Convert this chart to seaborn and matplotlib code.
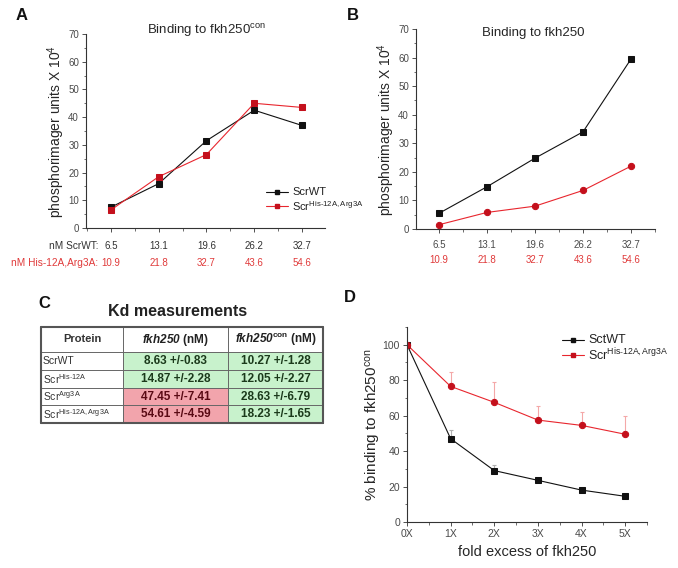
# %%
import numpy as np
import pandas as pd
import matplotlib
matplotlib.use("Agg")
import matplotlib.pyplot as plt
import seaborn as sns
from matplotlib.ticker import MultipleLocator
from matplotlib.patches import Rectangle

# %% data
conc_wt = ["6.5", "13.1", "19.6", "26.2", "32.7"]
conc_mut = ["10.9", "21.8", "32.7", "43.6", "54.6"]

a_wt = [7.5, 16.0, 31.5, 42.5, 37.0]
a_mut = [6.5, 18.5, 26.5, 45.0, 43.5]

b_wt = [5.5, 14.8, 24.8, 34.0, 59.5]
b_mut = [1.5, 5.8, 8.0, 13.5, 22.0]

fold = ["0X", "1X", "2X", "3X", "4X", "5X"]
d_wt = [100, 47, 29, 23.5, 18, 14.5]
d_wt_err = [0, 5, 3, 1.5, 1, 1]
d_mut = [100, 76.5, 67.5, 57.5, 54.5, 49.5]
d_mut_err = [0, 8, 11.5, 8, 7.5, 10.5]

proteins = ["ScrWT", r"Scr$^{His‑12A}$", r"Scr$^{Arg3A}$", r"Scr$^{His‑12A,Arg3A}$"]
kd_fkh250 = ["8.63 +/-0.83", "14.87 +/-2.28", "47.45 +/-7.41", "54.61 +/-4.59"]
kd_fkh250con = ["10.27 +/-1.28", "12.05 +/-2.27", "28.63 +/-6.79", "18.23 +/-1.65"]
kd_good_fkh250 = [True, True, False, False]

# %% style
sns.set_theme(style="ticks")
plt.rcParams["font.family"] = ["Liberation Sans", "DejaVu Sans"]
plt.rcParams["mathtext.fontset"] = "custom"
plt.rcParams["mathtext.rm"] = "Liberation Sans"
plt.rcParams["mathtext.it"] = "Liberation Sans:italic"
plt.rcParams["mathtext.bf"] = "Liberation Sans:bold"
plt.rcParams["mathtext.bfit"] = "Liberation Sans:italic:bold"
plt.rcParams["mathtext.default"] = "regular"

BLACK = "#111111"
RED_LINE = "#e8262e"
RED_MK = "#c4101c"
RED_TXT = "#e03a3a"
TICK_C = "#4a4a4a"

W, H = 678, 568
fig = plt.figure(figsize=(W / 100, H / 100), dpi=100)


def px_axes(x0, y0, x1, y1):
    return fig.add_axes([x0 / W, 1 - y1 / H, (x1 - x0) / W, (y1 - y0) / H])


def style_ax(ax, lsize=7):
    sns.despine(ax=ax)
    for s in ["left", "bottom"]:
        ax.spines[s].set_linewidth(0.8)
        ax.spines[s].set_color("#333333")
    ax.tick_params(which="major", direction="out", length=3, width=0.6,
                   colors="#333333", labelsize=lsize, labelcolor=TICK_C, pad=2)
    ax.tick_params(which="minor", direction="out", length=1.8, width=0.5,
                   colors="#333333")


def plot_series(ax, x, y, color, mcolor, marker, label=None):
    sns.lineplot(x=x, y=y, ax=ax, color=color, lw=0.8, marker=marker,
                 markersize=4.5, markerfacecolor=mcolor, markeredgecolor=mcolor,
                 label=label, legend=False)


def fig_legend(x0, ys, entries, fs):
    # hand-drawn legend in figure pixels, so text may spill past the panel
    for (c, mc, lab), yy in zip(entries, ys):
        fig.add_artist(plt.Line2D([x0 / W, (x0 + 11) / W, (x0 + 22) / W],
                                  [1 - yy / H] * 3, color=c, lw=0.8,
                                  marker="s", markersize=3.5, markevery=[1],
                                  markerfacecolor=mc, markeredgecolor=mc))
        fig.text((x0 + 26) / W, 1 - yy / H, lab, ha="left", va="center",
                 fontsize=fs, color="#222222")


# %% panel A
axA = px_axes(86, 34, 325, 228)
xi = np.arange(len(conc_wt))
plot_series(axA, xi, a_wt, BLACK, BLACK, "s")
plot_series(axA, xi, a_mut, RED_LINE, RED_MK, "s")
axA.set_xlim(-0.52, 4.48)
axA.set_ylim(0, 70)
axA.set_xticks(xi)
axA.set_xticklabels([])
axA.xaxis.set_minor_locator(MultipleLocator(0.5))
axA.yaxis.set_major_locator(MultipleLocator(10))
axA.yaxis.set_minor_locator(MultipleLocator(5))
style_ax(axA)
axA.set_ylabel(r"phosphorimager units X 10$^4$", fontsize=10, labelpad=1)
fig.text(206 / W, 1 - 31 / H, r"Binding to fkh250$^{con}$", ha="center",
         va="center", fontsize=9.5)
for i in xi:
    axA.text(i, -0.095, conc_wt[i], transform=axA.get_xaxis_transform(),
             ha="center", va="center", fontsize=7, color="#333333")
    axA.text(i, -0.18, conc_mut[i], transform=axA.get_xaxis_transform(),
             ha="center", va="center", fontsize=7, color=RED_TXT)
fig.text(98 / W, 1 - 246 / H, "nM ScrWT:", ha="right", va="center",
         fontsize=7.3, color="#333333")
fig.text(98 / W, 1 - 263 / H, "nM His-12A,Arg3A:", ha="right", va="center",
         fontsize=7.3, color=RED_TXT)
fig_legend(266, [192, 206],
           [(BLACK, BLACK, "ScrWT"),
            (RED_LINE, RED_MK, r"Scr$^{His‑12A,Arg3A}$")], 8)

# %% panel B
axB = px_axes(416, 29, 655, 229)
plot_series(axB, xi, b_wt, BLACK, BLACK, "s")
plot_series(axB, xi, b_mut, RED_LINE, RED_MK, "o")
axB.set_xlim(-0.48, 4.5)
axB.set_ylim(0, 70)
axB.set_xticks(xi)
axB.set_xticklabels(conc_wt)
axB.xaxis.set_minor_locator(MultipleLocator(0.5))
axB.yaxis.set_major_locator(MultipleLocator(10))
axB.yaxis.set_minor_locator(MultipleLocator(5))
style_ax(axB)
axB.tick_params(axis="x", pad=5)
axB.set_ylabel(r"phosphorimager units X 10$^4$", fontsize=10, labelpad=1)
fig.text(533 / W, 1 - 33 / H, "Binding to fkh250", ha="center",
         va="center", fontsize=9.5)
for i in xi:
    axB.text(i, -0.155, conc_mut[i], transform=axB.get_xaxis_transform(),
             ha="center", va="center", fontsize=7, color=RED_TXT)

# %% panel C (table)
col_edges = [41, 123, 228, 323]
row_edges = [327, 352, 370, 388, 405, 423]
axC = px_axes(col_edges[0] - 2, row_edges[0] - 2, col_edges[-1] + 2,
              row_edges[-1] + 2)
axC.set_xlim(col_edges[0] - 2, col_edges[-1] + 2)
axC.set_ylim(row_edges[-1] + 2, row_edges[0] - 2)
axC.axis("off")
GREEN = "#c8f2cc"
PINK = "#f2a4ac"
for r in range(4):
    y0, y1 = row_edges[r + 1], row_edges[r + 2]
    c1 = GREEN if kd_good_fkh250[r] else PINK
    axC.add_patch(Rectangle((col_edges[1], y0), col_edges[2] - col_edges[1],
                            y1 - y0, color=c1, lw=0))
    axC.add_patch(Rectangle((col_edges[2], y0), col_edges[3] - col_edges[2],
                            y1 - y0, color=GREEN, lw=0))
for xv in col_edges:
    axC.plot([xv, xv], [row_edges[0], row_edges[-1]], color="#666666", lw=0.7)
for yv in row_edges:
    axC.plot([col_edges[0], col_edges[-1]], [yv, yv], color="#666666", lw=0.7)
for xv in [col_edges[0], col_edges[-1]]:
    axC.plot([xv, xv], [row_edges[0], row_edges[-1]], color="#555555", lw=1.5)
for yv in [row_edges[0], row_edges[-1]]:
    axC.plot([col_edges[0], col_edges[-1]], [yv, yv], color="#555555", lw=1.5)

hy = (row_edges[0] + row_edges[1]) / 2
axC.text((col_edges[0] + col_edges[1]) / 2, hy, "Protein", ha="center",
         va="center", fontsize=8, fontweight="bold", color="#333333")
axC.text((col_edges[1] + col_edges[2]) / 2, hy, r"$\mathbfit{fkh250}$ (nM)",
         ha="center", va="center", fontsize=8.5, fontweight="bold",
         color="#222222")
axC.text((col_edges[2] + col_edges[3]) / 2, hy,
         r"$\mathbfit{fkh250}^{con}$ (nM)", ha="center", va="center",
         fontsize=8.5, fontweight="bold", color="#222222")
for r in range(4):
    cy = (row_edges[r + 1] + row_edges[r + 2]) / 2
    axC.text(col_edges[0] + 2, cy, proteins[r], ha="left", va="center",
             fontsize=7.5, color="#333333")
    tc = "#1b3a1b" if kd_good_fkh250[r] else "#5a0a14"
    axC.text((col_edges[1] + col_edges[2]) / 2, cy, kd_fkh250[r], ha="center",
             va="center", fontsize=8.5, fontweight="bold", color=tc)
    axC.text((col_edges[2] + col_edges[3]) / 2, cy, kd_fkh250con[r],
             ha="center", va="center", fontsize=8.5, fontweight="bold",
             color="#1b3a1b")
fig.text(178 / W, 1 - 312 / H, "Kd measurements", ha="center", va="center",
         fontsize=11.5, fontweight="bold", color="#222222")

# %% panel D
axD = px_axes(407, 327, 647, 522)
xd = np.arange(len(fold))
axD.errorbar(xd, d_mut, yerr=[np.zeros(len(fold)), d_mut_err], fmt="none",
             ecolor="#f4a8a8", elinewidth=0.8, capsize=1.5, capthick=0.8)
axD.errorbar(xd, d_wt, yerr=[np.zeros(len(fold)), d_wt_err], fmt="none",
             ecolor="#b0b0b0", elinewidth=0.8, capsize=1.5, capthick=0.8)
plot_series(axD, xd, d_wt, BLACK, BLACK, "s")
plot_series(axD, xd, d_mut, RED_LINE, RED_MK, "o")
axD.set_xlim(0, 5.5)
axD.set_ylim(0, 110)
axD.set_xticks(xd)
axD.set_xticklabels(fold)
axD.xaxis.set_minor_locator(MultipleLocator(0.5))
axD.yaxis.set_major_locator(MultipleLocator(20))
axD.yaxis.set_minor_locator(MultipleLocator(10))
style_ax(axD, lsize=7.5)
axD.set_xlabel("fold excess of fkh250", fontsize=10.5, labelpad=4)
axD.set_ylabel(r"% binding to fkh250$^{con}$", fontsize=11, labelpad=0)
fig_legend(562, [340, 355],
           [(BLACK, BLACK, "SctWT"),
            (RED_LINE, RED_MK, r"Scr$^{His‑12A,Arg3A}$")], 9)

# %% panel letters
for lab, (x, y) in {"A": (22, 16), "B": (353, 16), "C": (44, 303),
                    "D": (350, 298)}.items():
    fig.text(x / W, 1 - y / H, lab, ha="center", va="center", fontsize=12,
             fontweight="bold", color="#111111")

fig.savefig("out.png", dpi=100)
